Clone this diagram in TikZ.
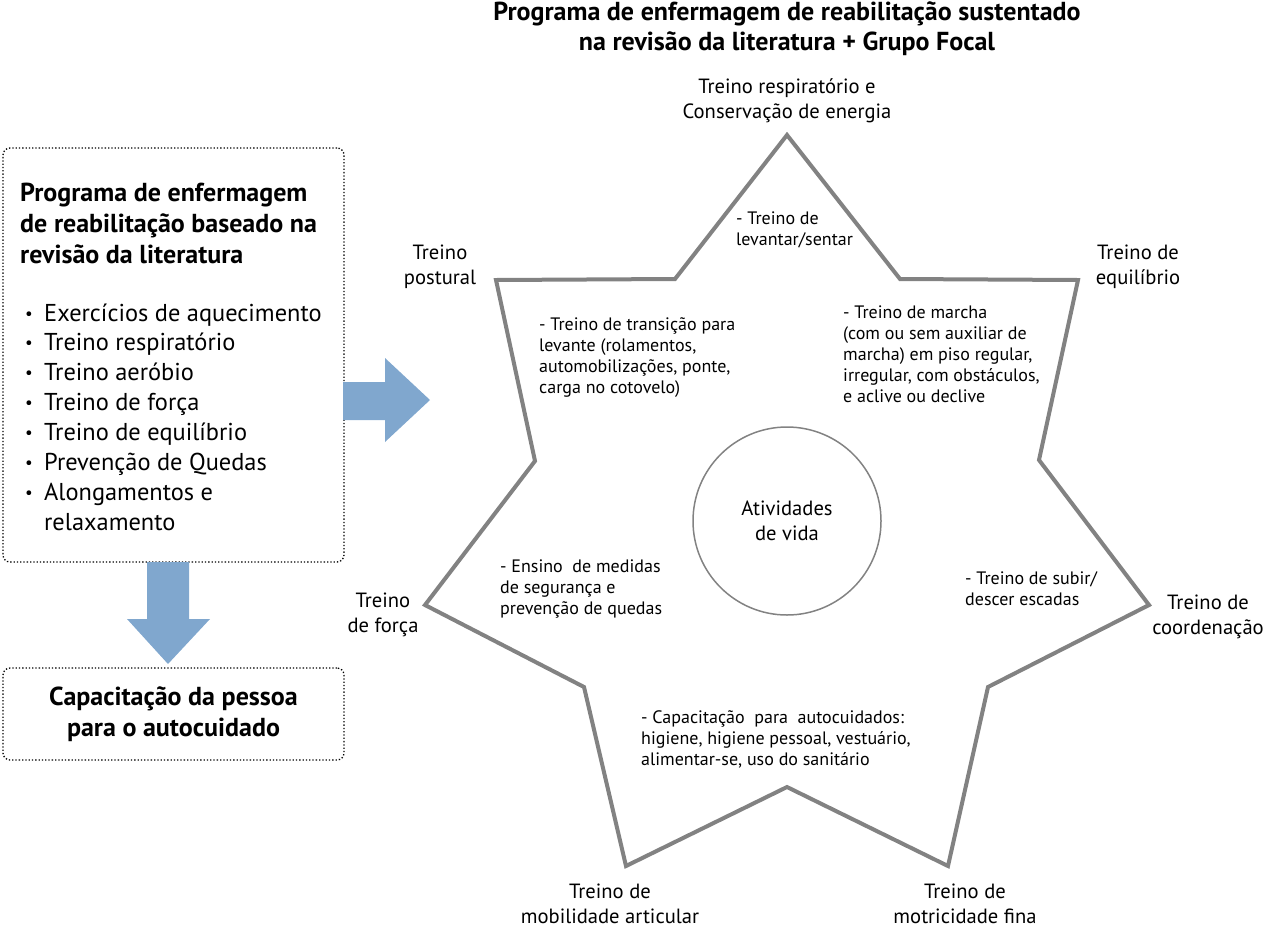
\documentclass[tikz,border=0pt]{standalone}
\usepackage{fontspec}
\setmainfont{PT Sans}
\usetikzlibrary{positioning}
\definecolor{starcol}{RGB}{130,130,130}
\definecolor{arrowcol}{RGB}{128,167,206}

\begin{document}
\begin{tikzpicture}
[x=1pt,y=-1pt,
  starline/.style={draw=starcol,line width=4pt,line join=miter},
  boxdecorate/.style={draw,dotted,line width=1.3pt,rounded corners=7pt,
    inner sep=0pt},
  blockarrow/.style={fill=arrowcol},
  vertexlabel/.style={align=center,inner sep=0pt,
    font=\fontsize{20.6}{25}\selectfont},
  innertext/.style={align=left,anchor=north west,inner sep=0pt,
    font=\fontsize{18}{21}\selectfont},
  listtext/.style={anchor=base west,inner sep=0pt,
    font=\fontsize{24.4}{30}\selectfont},
  bullettext/.style={anchor=base west,inner sep=0pt,
    font=\fontsize{17}{30}\selectfont},
  headtext/.style={align=left,anchor=north west,inner sep=0pt,
    font=\bfseries\fontsize{26}{31}\selectfont}]
\useasboundingbox (0,0) rectangle (1265,924);

%% title
\node (title) at (787,29) [align=center,inner sep=0pt,
  font=\bfseries\fontsize{26}{30}\selectfont]
  {Programa de enfermagem de reabilitação sustentado\\
   na revisão da literatura + Grupo Focal};

%% left boxes
\node (litbox) at (173.5,355) [boxdecorate,minimum width=341,
  minimum height=414] {};
\node (litbox head) at (20,183) [headtext]
  {Programa de enfermagem\\de reabilitação baseado na\\revisão da literatura};
\foreach \i/\item in {0/Exercícios de aquecimento, 1/Treino respiratório,
  2/Treino aeróbio, 3/Treino de força, 4/Treino de equilíbrio,
  5/Prevenção de Quedas, 6/Alongamentos e} {
  \node (bullet\i) at (25,319+29.9*\i) [bullettext] {•};
  \node (item\i) at (44,321+29.9*\i) [listtext] {\item};
}
\node (item7) at (44,321+29.9*7) [listtext] {relaxamento};
\node (selfbox) at (173.5,714) [boxdecorate,minimum width=341,
  minimum height=92,align=center,
  font=\bfseries\fontsize{26}{31}\selectfont]
  {Capacitação da pessoa\\para o autocuidado};

%% block arrows
\fill[blockarrow] (343,382) -- (385,382) -- (385,358) -- (430,400)
  -- (385,442) -- (385,420) -- (343,420) -- cycle;
\fill[blockarrow] (147,562) -- (189,562) -- (189,619) -- (210,619)
  -- (168,664) -- (127,619) -- (147,619) -- cycle;

%% star vertices
\foreach \nodename/\x/\y in {s1/787/135, s2/900/279, s3/1078/280,
  s4/1039/460, s5/1149/605, s6/988/687, s7/948/866, s8/787/787,
  s9/626/866, s10/584/687, s11/425/605, s12/535/461, s13/496/280,
  s14/675/279} {
  \coordinate (\nodename) at (\x,\y);
}
\draw[starline] (s1) -- (s2) -- (s3) -- (s4) -- (s5) -- (s6) -- (s7)
  -- (s8) -- (s9) -- (s10) -- (s11) -- (s12) -- (s13) -- (s14) -- cycle;

%% labels at the points
\node (lab1) at (787,101) [vertexlabel]
  {Treino respiratório e\\Conservação de energia};
\node (lab3) at (1138,267) [vertexlabel] {Treino de\\equilíbrio};
\node (lab5) at (1208,617) [vertexlabel] {Treino de\\coordenação};
\node (lab7) at (965,904) [vertexlabel] {Treino de\\motricidade fina};
\node (lab9) at (610,904) [vertexlabel] {Treino de\\mobilidade articular};
\node (lab11) at (383,615) [vertexlabel] {Treino\\de força};
\node (lab13) at (440,267) [vertexlabel] {Treino\\postural};

%% centre
\node (vida) at (787,521) [circle,draw=starcol,line width=1.5pt,
  minimum size=188,align=center,inner sep=0pt,
  font=\fontsize{20.6}{25}\selectfont] {Atividades\\de vida};

%% texts inside the star
\node (levantar) at (736,212) [innertext]
  {- Treino de\\levantar/sentar};
\node (transicao) at (539,317) [innertext]
  {- Treino de transição para\\levante (rolamentos,\\automobilizações, ponte,\\carga no cotovelo)};
\node (marcha) at (843,306) [innertext]
  {- Treino de marcha\\(com ou sem auxiliar de\\marcha) em piso regular,\\irregular, com obstáculos,\\e aclive ou declive};
\node (ensino) at (500,560) [innertext]
  {- Ensino\ \ de medidas\\de segurança e\\prevenção de quedas};
\node (escadas) at (965,571) [innertext]
  {- Treino de subir/\\descer escadas};
\node (autocuidados) at (641,710) [innertext]
  {- Capacitação\ \ para\ \ autocuidados:\\higiene, higiene pessoal, vestuário,\\alimentar-se, uso do sanitário};
\end{tikzpicture}
\end{document}
